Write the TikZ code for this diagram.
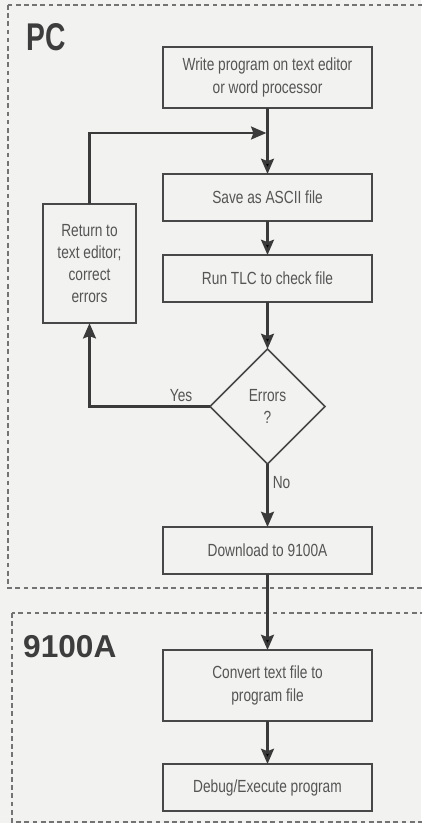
\documentclass[tikz,border=0pt]{standalone}
\usepackage{fontspec}
\setmainfont{Liberation Sans}[FakeStretch=0.78]
\newfontfamily\pcfont{Liberation Sans}[FakeStretch=0.73]
\newfontfamily\meterfont{Liberation Sans}
\usetikzlibrary{arrows.meta,positioning,shapes.geometric}

\definecolor{paper}{RGB}{242,242,240}
\definecolor{ink}{RGB}{72,72,72}
\definecolor{txt}{RGB}{85,85,85}

\tikzset{
  stepbox/.style={draw=ink,line width=1.4pt,fill=paper,text=txt,align=center,
    minimum width=6.27cm,minimum height=1.41cm,inner sep=2pt,outer sep=0pt,
    font=\fontsize{15}{19.5}\selectfont},
  decision/.style={stepbox,diamond,aspect=1,minimum width=3.45cm,minimum height=3.45cm,inner sep=0pt},
  flow/.style={draw=ink!80!black,line width=2.3pt},
  region/.style={draw=gray!90!black,line width=0.9pt,dash pattern=on 4pt off 3pt},
  regionlabel/.style={text=ink!85!black,inner sep=0pt,anchor=north west},
  tag/.style={text=txt,font=\fontsize{15}{19.5}\selectfont}
}

\begin{document}
\begin{tikzpicture}[x=0.03cm,y=-0.03cm,>={Stealth[length=13pt,width=11pt,inset=2pt]},node distance=1cm]

	\fill[paper] (0,0) rectangle (421,823);
	\useasboundingbox (0,0) rectangle (421,823);

	% the two sides: PC and 9100A
	\draw[region] (8,5) rectangle (440,588);
	\draw[region] (12,613) rectangle (440,822);
	\node[regionlabel,font=\pcfont\fontsize{33}{33}\bfseries\selectfont] (pclabel) at (26,23) {PC};
	\node[regionlabel,font=\meterfont\fontsize{27}{27}\bfseries\selectfont] (meterlabel) at (23,635) {9100A};

	\node[stepbox,minimum height=1.83cm] (write) at (267.5,77.5) {Write program on text editor\\or word processor};
	\node[stepbox]        (save)     [below=1.98cm of write]    {Save as ASCII file};
	\node[stepbox]        (tlc)      [below=1.02cm of save]     {Run TLC to check file};
	\node[decision]       (errors)   [below=1.41cm of tlc]      {Errors\\?};
	\node[stepbox]        (download) [below=1.89cm of errors]   {Download to 9100A};
	\node[stepbox,minimum height=2.13cm] (convert) [below=2.28cm of download] {Convert text file to\\program file};
	\node[stepbox]        (debug)    [below=1.29cm of convert]  {Debug/Execute program};
	\node[stepbox,minimum width=2.79cm,minimum height=3.57cm,font=\fontsize{15}{18.7}\selectfont]
	                      (fix)      [below left=0.2cm and 0.81cm of save.west] {Return to\\text editor;\\correct\\errors};

	\coordinate[below=0.75cm of write.south] (join);

	\path[flow,->] (write)    edge (save)
	               (save)     edge (tlc)
	               (tlc)      edge (errors)
	               (download) edge (convert)
	               (convert)  edge (debug);
	\draw[flow,->] (errors.south) -- node[tag,right,pos=0.3] {No} (download.north);
	\draw[flow,->] (errors.west) -| node[tag,above,pos=0.12] {Yes} (fix.south);
	\draw[flow,->,shorten >=1pt] (fix.north) |- (join);

\end{tikzpicture}
\end{document}
